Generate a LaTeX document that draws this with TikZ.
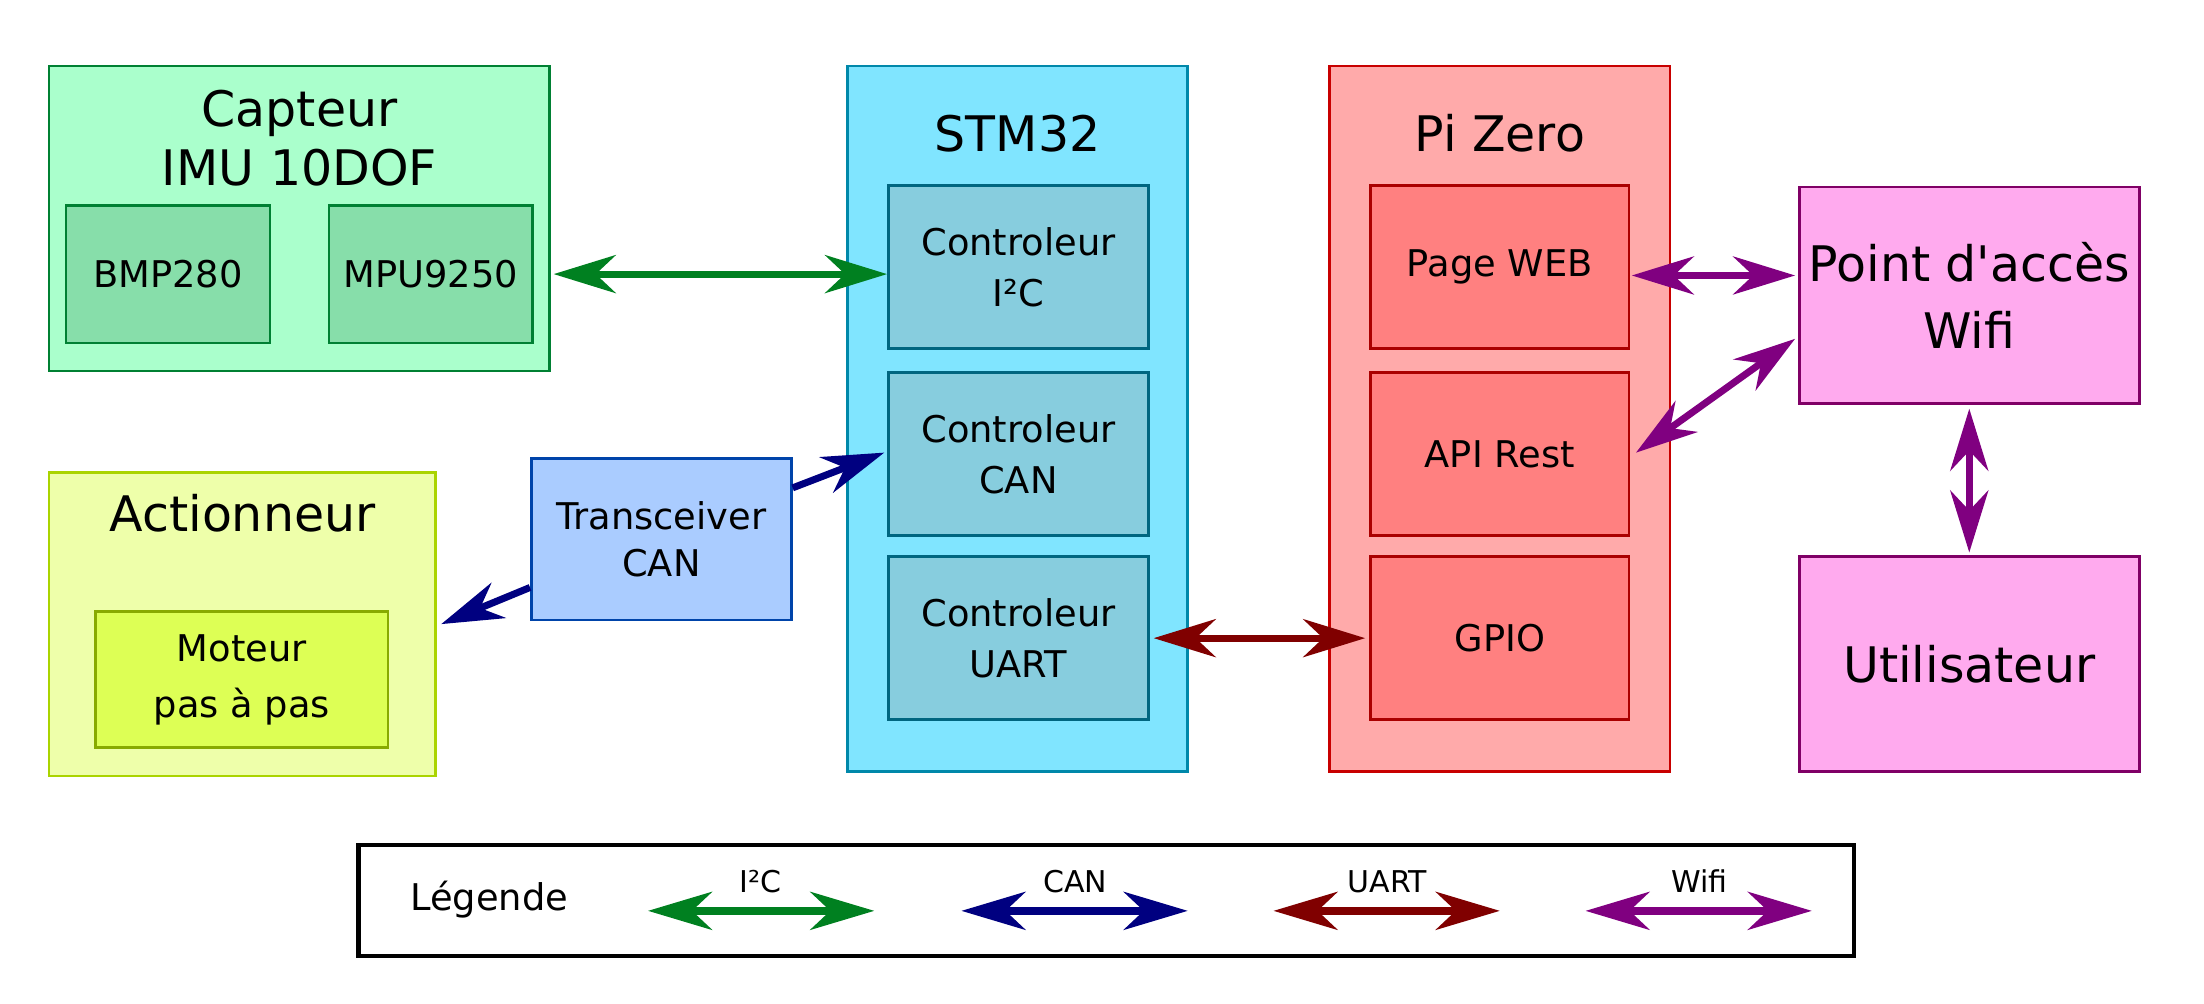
\documentclass[tikz,border=0pt]{standalone}
\usepackage{fontspec}
\setmainfont{DejaVu Sans}[Ligatures=TeXOff]
\usetikzlibrary{arrows.meta,calc}
\def\pxu{0.7028pt}
\definecolor{capfill}{HTML}{AAFFCC}
\definecolor{capdraw}{HTML}{008033}
\definecolor{capin}{HTML}{87DEAA}
\definecolor{actfill}{HTML}{EEFFAA}
\definecolor{actdraw}{HTML}{AAD400}
\definecolor{motfill}{HTML}{DDFF55}
\definecolor{motdraw}{HTML}{88AA00}
\definecolor{txfill}{HTML}{AACCFF}
\definecolor{txdraw}{HTML}{0044AA}
\definecolor{stmfill}{HTML}{80E5FF}
\definecolor{stmdraw}{HTML}{0088AA}
\definecolor{stmin}{HTML}{87CDDE}
\definecolor{stmindraw}{HTML}{006680}
\definecolor{pifill}{HTML}{FFAAAA}
\definecolor{pidraw}{HTML}{C80000}
\definecolor{piin}{HTML}{FF8080}
\definecolor{piindraw}{HTML}{AA0000}
\definecolor{wfill}{HTML}{FFAAEE}
\definecolor{wdraw}{HTML}{800066}
\definecolor{ci2c}{HTML}{008020}
\definecolor{ccan}{HTML}{000080}
\definecolor{cuart}{HTML}{800000}
\definecolor{cwifi}{HTML}{800080}
\begin{document}
\begin{tikzpicture}[x=0.7028pt,y=-0.7028pt,
  box/.style={draw, line width=1.3pt, inner sep=0pt, align=center},
  ttl/.style={font=\fontsize{24.5}{29.5}\selectfont, align=center, inner sep=0pt},
  txt/.style={font=\fontsize{18.4}{25.3}\selectfont},
  conn/.style={line width=3.5pt, {Stealth[length=31pt,width=19pt,inset=10pt]}-{Stealth[length=31pt,width=19pt,inset=10pt]}},
  sconn/.style={line width=3.5pt, -{Stealth[length=31pt,width=19pt,inset=10pt]}},
  lconn/.style={line width=3.7pt, {Stealth[length=32pt,width=19pt,inset=10pt]}-{Stealth[length=32pt,width=19pt,inset=10pt]}},
  lab/.style={font=\fontsize{15}{18}\selectfont, inner sep=0pt}
]
\useasboundingbox (0,0) rectangle (1568,714);

% Capteur
\node[box, fill=capfill, draw=capdraw, minimum width=356*\pxu, minimum height=217*\pxu] (capteur) at (213,155.5) {};
\node[ttl] (capttl) at (213,98) {Capteur\\IMU 10DOF};
\node[box, txt, fill=capin, draw=capdraw, minimum width=145*\pxu, minimum height=98*\pxu] (bmp) at (119.5,195) {BMP280};
\node[box, txt, fill=capin, draw=capdraw, minimum width=145*\pxu, minimum height=98*\pxu] (mpu) at (306.5,195) {MPU9250};

% Actionneur
\node[box, fill=actfill, draw=actdraw, minimum width=275*\pxu, minimum height=216*\pxu] (act) at (172.5,444) {};
\node[ttl] (actttl) at (172.5,365) {Actionneur};
\node[box, fill=motfill, draw=motdraw, minimum width=208*\pxu, minimum height=97*\pxu, font=\fontsize{18.4}{28}\selectfont] (mot) at (172,483.5) {Moteur\\pas à pas};

% Transceiver
\node[box, fill=txfill, draw=txdraw, minimum width=185*\pxu, minimum height=115*\pxu, font=\fontsize{18.4}{23.5}\selectfont] (tx) at (470.5,383.5) {Transceiver\\CAN};

% STM32
\node[box, fill=stmfill, draw=stmdraw, minimum width=242*\pxu, minimum height=502*\pxu] (stm) at (724,298) {};
\node[ttl] (stmttl) at (724,95) {STM32};
\node[box, txt, fill=stmin, draw=stmindraw, minimum width=185*\pxu, minimum height=116*\pxu] (ci2cn) at (724.5,190) {Controleur\\I²C};
\node[box, txt, fill=stmin, draw=stmindraw, minimum width=185*\pxu, minimum height=116*\pxu] (ccann) at (724.5,323) {Controleur\\CAN};
\node[box, txt, fill=stmin, draw=stmindraw, minimum width=185*\pxu, minimum height=116*\pxu] (cuartn) at (724.5,454) {Controleur\\UART};

% Pi Zero
\node[box, fill=pifill, draw=pidraw, minimum width=242*\pxu, minimum height=502*\pxu] (pi) at (1067,298) {};
\node[ttl] (pittl) at (1067,95) {Pi Zero};
\node[box, txt, fill=piin, draw=piindraw, minimum width=184*\pxu, minimum height=116*\pxu] (pweb) at (1067,190) {Page WEB};
\node[box, txt, fill=piin, draw=piindraw, minimum width=184*\pxu, minimum height=116*\pxu] (api) at (1067,323) {API Rest};
\node[box, txt, fill=piin, draw=piindraw, minimum width=184*\pxu, minimum height=116*\pxu] (gpio) at (1067,454) {GPIO};

% Wifi
\node[box, fill=wfill, draw=wdraw, minimum width=242*\pxu, minimum height=154*\pxu, font=\fontsize{24.5}{33.7}\selectfont] (point) at (1401,210) {Point d'accès\\Wifi};
\node[box, fill=wfill, draw=wdraw, minimum width=242*\pxu, minimum height=153*\pxu, font=\fontsize{24.5}{29.5}\selectfont] (util) at (1401,472.5) {Utilisateur};

% Connectors
\draw[conn, ci2c] ([xshift=1.4pt]capteur.east |- ci2cn.west) ++(0,5) coordinate (i2ca) (i2ca) -- (i2ca -| ci2cn.west);
\draw[sconn, ccan] ([yshift=25.6pt]tx.east) -- ([xshift=-1.4pt,yshift=0.7pt]ccann.west);
\draw[sconn, ccan] ([yshift=-24.2pt]tx.west) -- ([xshift=2.1pt]act.east);
\draw[conn, cuart] ([xshift=2pt]cuartn.east) -- ([xshift=-2pt]gpio.west);
\draw[conn, cwifi] ([xshift=0.7pt,yshift=-4.2pt]pweb.east) -- ([xshift=-1.4pt,yshift=-4.2pt]pweb.east -| point.west);
\draw[conn, cwifi] ([xshift=2.8pt,yshift=0.7pt]api.east) -- ([xshift=-1.4pt,yshift=-21.8pt]point.west);
\draw[conn, cwifi] ([yshift=-2pt]point.south) -- ([yshift=1.4pt]util.north);

% Legend
\node[draw, line width=2.2pt, minimum width=1064*\pxu, minimum height=79*\pxu, inner sep=0pt] (leg) at (787,640.5) {};
\node[font=\fontsize{18.4}{22}\selectfont, inner sep=0pt] (legt) at (348,640) {Légende};
\coordinate (l1a) at (461,648); \coordinate (l1b) at (622,648);
\coordinate (l2a) at (684,648); \coordinate (l2b) at (845,648);
\coordinate (l3a) at (906,648); \coordinate (l3b) at (1067,648);
\coordinate (l4a) at (1128,648); \coordinate (l4b) at (1289,648);
\draw[lconn, ci2c] (l1a) -- (l1b);
\draw[lconn, ccan] (l2a) -- (l2b);
\draw[lconn, cuart] (l3a) -- (l3b);
\draw[lconn, cwifi] (l4a) -- (l4b);
\node[lab] (lab1) at (541,627) {I²C};
\node[lab] (lab2) at (765,627) {CAN};
\node[lab] (lab3) at (987,627) {UART};
\node[lab] (lab4) at (1209,627) {Wifi};
\end{tikzpicture}
\end{document}
